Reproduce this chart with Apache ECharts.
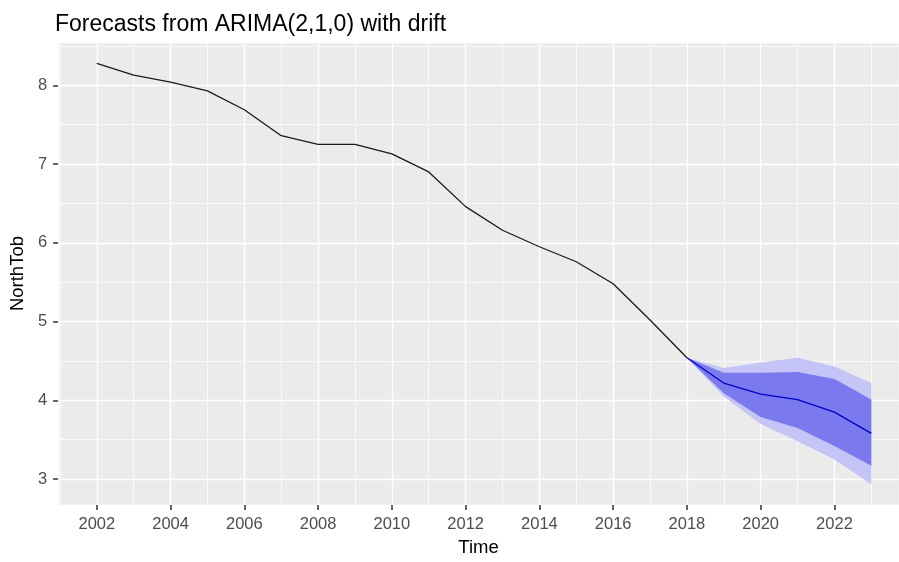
<!DOCTYPE html>
<html>
<head>
<meta charset="utf-8">
<script src="https://cdn.jsdelivr.net/npm/echarts@6/dist/echarts.min.js"></script>
<style>
html,body{margin:0;padding:0;background:#fff;}
#c{width:899px;height:562px;}
</style>
</head>
<body>
<div id="c"></div>
<script>
// Historical data
const histYears = [2002,2003,2004,2005,2006,2007,2008,2009,2010,2011,2012,2013,2014,2015,2016,2017,2018];
const histValues = [8.28,8.13,8.04,7.93,7.69,7.36,7.25,7.25,7.13,6.90,6.46,6.16,5.95,5.76,5.48,5.02,4.54];
// Forecast
const fcYears = [2018,2019,2020,2021,2022,2023];
const fcMean = [4.54,4.22,4.08,4.01,3.85,3.58];
const fcLo80 = [4.54,4.09,3.79,3.65,3.42,3.17];
const fcHi80 = [4.54,4.35,4.35,4.36,4.27,4.01];
const fcLo95 = [4.54,4.05,3.70,3.48,3.25,2.93];
const fcHi95 = [4.54,4.41,4.48,4.54,4.43,4.22];

const FONT = '"Liberation Sans", Arial, sans-serif';
const pairs = (xs, ys) => xs.map((x, i) => [x, ys[i]]);

const xMin = 2000.95, xMax = 2023.75;
const yMin = 2.67, yMax = 8.55;

// band polygon through the library's coordinate system
function bandSeries(lo, hi, color, z) {
  return {
    type: 'custom',
    silent: true,
    clip: true,
    z: z,
    data: [[fcYears[0], lo[0]]],
    renderItem: function (params, api) {
      const pts = [];
      for (let i = 0; i < fcYears.length; i++) pts.push(api.coord([fcYears[i], hi[i]]));
      for (let i = fcYears.length - 1; i >= 0; i--) pts.push(api.coord([fcYears[i], lo[i]]));
      return {
        type: 'polygon',
        shape: {points: pts},
        style: {fill: color, stroke: null}
      };
    }
  };
}

const tickStyle = {show: true, inside: false, length: 5, lineStyle: {color: '#333333', width: 1.5}};

const chart = echarts.init(document.getElementById('c'), null, {renderer: 'canvas'});
chart.setOption({
  animation: false,
  backgroundColor: '#ffffff',
  title: {
    text: 'Forecasts from ARIMA(2,1,0) with drift',
    left: 50, top: 8,
    textStyle: {fontFamily: FONT, fontSize: 23, fontWeight: 'normal', color: '#000'}
  },
  grid: {
    left: 53, right: 0, top: 42, bottom: 52,
    show: true, backgroundColor: '#EBEBEB', borderWidth: 0
  },
  xAxis: [{
    type: 'value', min: xMin, max: xMax,
    minInterval: 2, maxInterval: 2, splitNumber: 11,
    name: 'Time', nameLocation: 'middle', nameGap: 32,
    nameTextStyle: {fontFamily: FONT, fontSize: 18.5, color: '#000'},
    axisLine: {show: false},
    axisTick: tickStyle,
    axisLabel: {
      margin: 11, fontFamily: FONT, fontSize: 16.5, color: '#4D4D4D',
      showMinLabel: false, showMaxLabel: false,
      formatter: v => Number.isInteger(v) ? String(v) : ''
    },
    splitLine: {show: true, lineStyle: {color: '#FFFFFF', width: 1.4}}
  }, {
    type: 'value', min: xMin, max: xMax, position: 'top',
    minInterval: 1, maxInterval: 1, splitNumber: 22,
    axisLine: {show: false}, axisTick: {show: false}, axisLabel: {show: false},
    splitLine: {show: true, lineStyle: {color: '#FFFFFF', width: 0.7}}
  }],
  yAxis: [{
    type: 'value', min: yMin, max: yMax,
    minInterval: 1, maxInterval: 1, splitNumber: 6,
    name: 'NorthTob', nameLocation: 'middle', nameGap: 27,
    nameTextStyle: {fontFamily: FONT, fontSize: 18.5, color: '#000'},
    axisLine: {show: false},
    axisTick: tickStyle,
    axisLabel: {
      margin: 11, fontFamily: FONT, fontSize: 16.5, color: '#4D4D4D',
      showMinLabel: false, showMaxLabel: false,
      formatter: v => Number.isInteger(v) ? String(v) : ''
    },
    splitLine: {show: true, lineStyle: {color: '#FFFFFF', width: 1.4}}
  }, {
    type: 'value', min: yMin, max: yMax, position: 'right',
    minInterval: 0.5, maxInterval: 0.5, splitNumber: 12,
    axisLine: {show: false}, axisTick: {show: false}, axisLabel: {show: false},
    splitLine: {show: true, lineStyle: {color: '#FFFFFF', width: 0.7}}
  }],
  series: [
    bandSeries(fcLo95, fcHi95, '#C4C4F6', 2),
    bandSeries(fcLo80, fcHi80, '#7A7AEE', 3),
    {
      type: 'line', name: 'history', data: pairs(histYears, histValues),
      symbol: 'none', lineStyle: {color: '#1a1a1a', width: 1.3}, z: 4
    },
    {
      type: 'line', name: 'mean', data: pairs(fcYears, fcMean),
      symbol: 'none', lineStyle: {color: '#0000CC', width: 1.3}, z: 5
    }
  ]
});
</script>
</body>
</html>
